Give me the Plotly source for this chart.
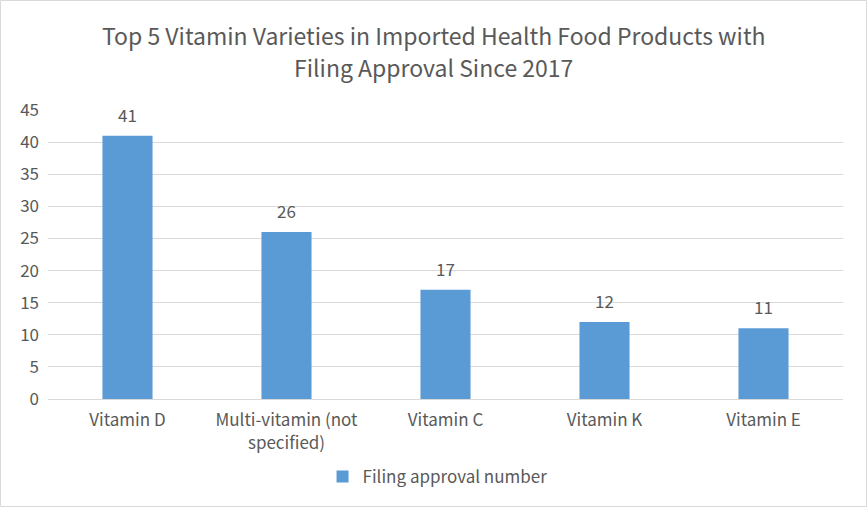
import plotly.graph_objects as go

categories = ["Vitamin D", "Multi-vitamin (not<br>specified)", "Vitamin C", "Vitamin K", "Vitamin E"]
values = [41, 26, 17, 12, 11]
series_name = "Filing approval number"
y_ticks = [0, 5, 10, 15, 20, 25, 30, 35, 40, 45]
title_lines = ["Top 5 Vitamin Varieties in Imported Health Food Products with",
               "Filing Approval Since 2017"]

FONT = "Noto Sans CJK SC, Noto Sans, sans-serif"
GRAY = "#595959"

fig = go.Figure()
fig.add_trace(go.Bar(
    x=categories, y=values, name=series_name,
    marker=dict(color="#5B9BD5", line=dict(width=0)),
    cliponaxis=False,
))
for c, v in zip(categories, values):
    fig.add_annotation(x=c, y=v, text=str(v), showarrow=False, yanchor="bottom", yshift=7,
                       font=dict(size=17, color=GRAY, family=FONT))

# title lines (paper coords: plot area is 795 x 289 px, top at 110 px)
for i, line in enumerate(title_lines):
    ypix = 35 + 32 * i
    fig.add_annotation(
        text=line, xref="paper", yref="paper",
        x=0.5 - 12/795, y=1 + (110 - ypix)/289, yanchor="middle", xanchor="center",
        showarrow=False, font=dict(size=23, color=GRAY, family=FONT),
    )

fig.update_layout(
    width=867, height=507,
    paper_bgcolor="white", plot_bgcolor="white",
    margin=dict(l=48, r=24, t=110, b=108),
    bargap=0.685,
    showlegend=True,
    legend=dict(orientation="h", x=0.49, xanchor="center", y=-0.27, yanchor="middle",
                font=dict(size=17, color=GRAY, family=FONT), itemwidth=30),
    font=dict(family=FONT, color=GRAY),
)
fig.update_xaxes(
    showgrid=False, showline=True, linecolor="#D9D9D9", linewidth=1,
    tickfont=dict(size=17, color=GRAY, family=FONT), ticks="", ticklabelstandoff=6,
)
fig.update_yaxes(
    range=[0, 45], tickvals=y_ticks, showgrid=True, gridcolor="#D9D9D9", gridwidth=1,
    zeroline=False, showline=False, ticks="", ticklabelstandoff=8,
    tickfont=dict(size=17, color=GRAY, family=FONT),
)
fig.add_shape(type="rect", xref="paper", yref="paper",
              x0=-47.5/795, x1=1+23.5/795, y0=-107.5/289, y1=1+109.5/289,
              line=dict(color="#D9D9D9", width=1))

fig.write_html("out.html")
